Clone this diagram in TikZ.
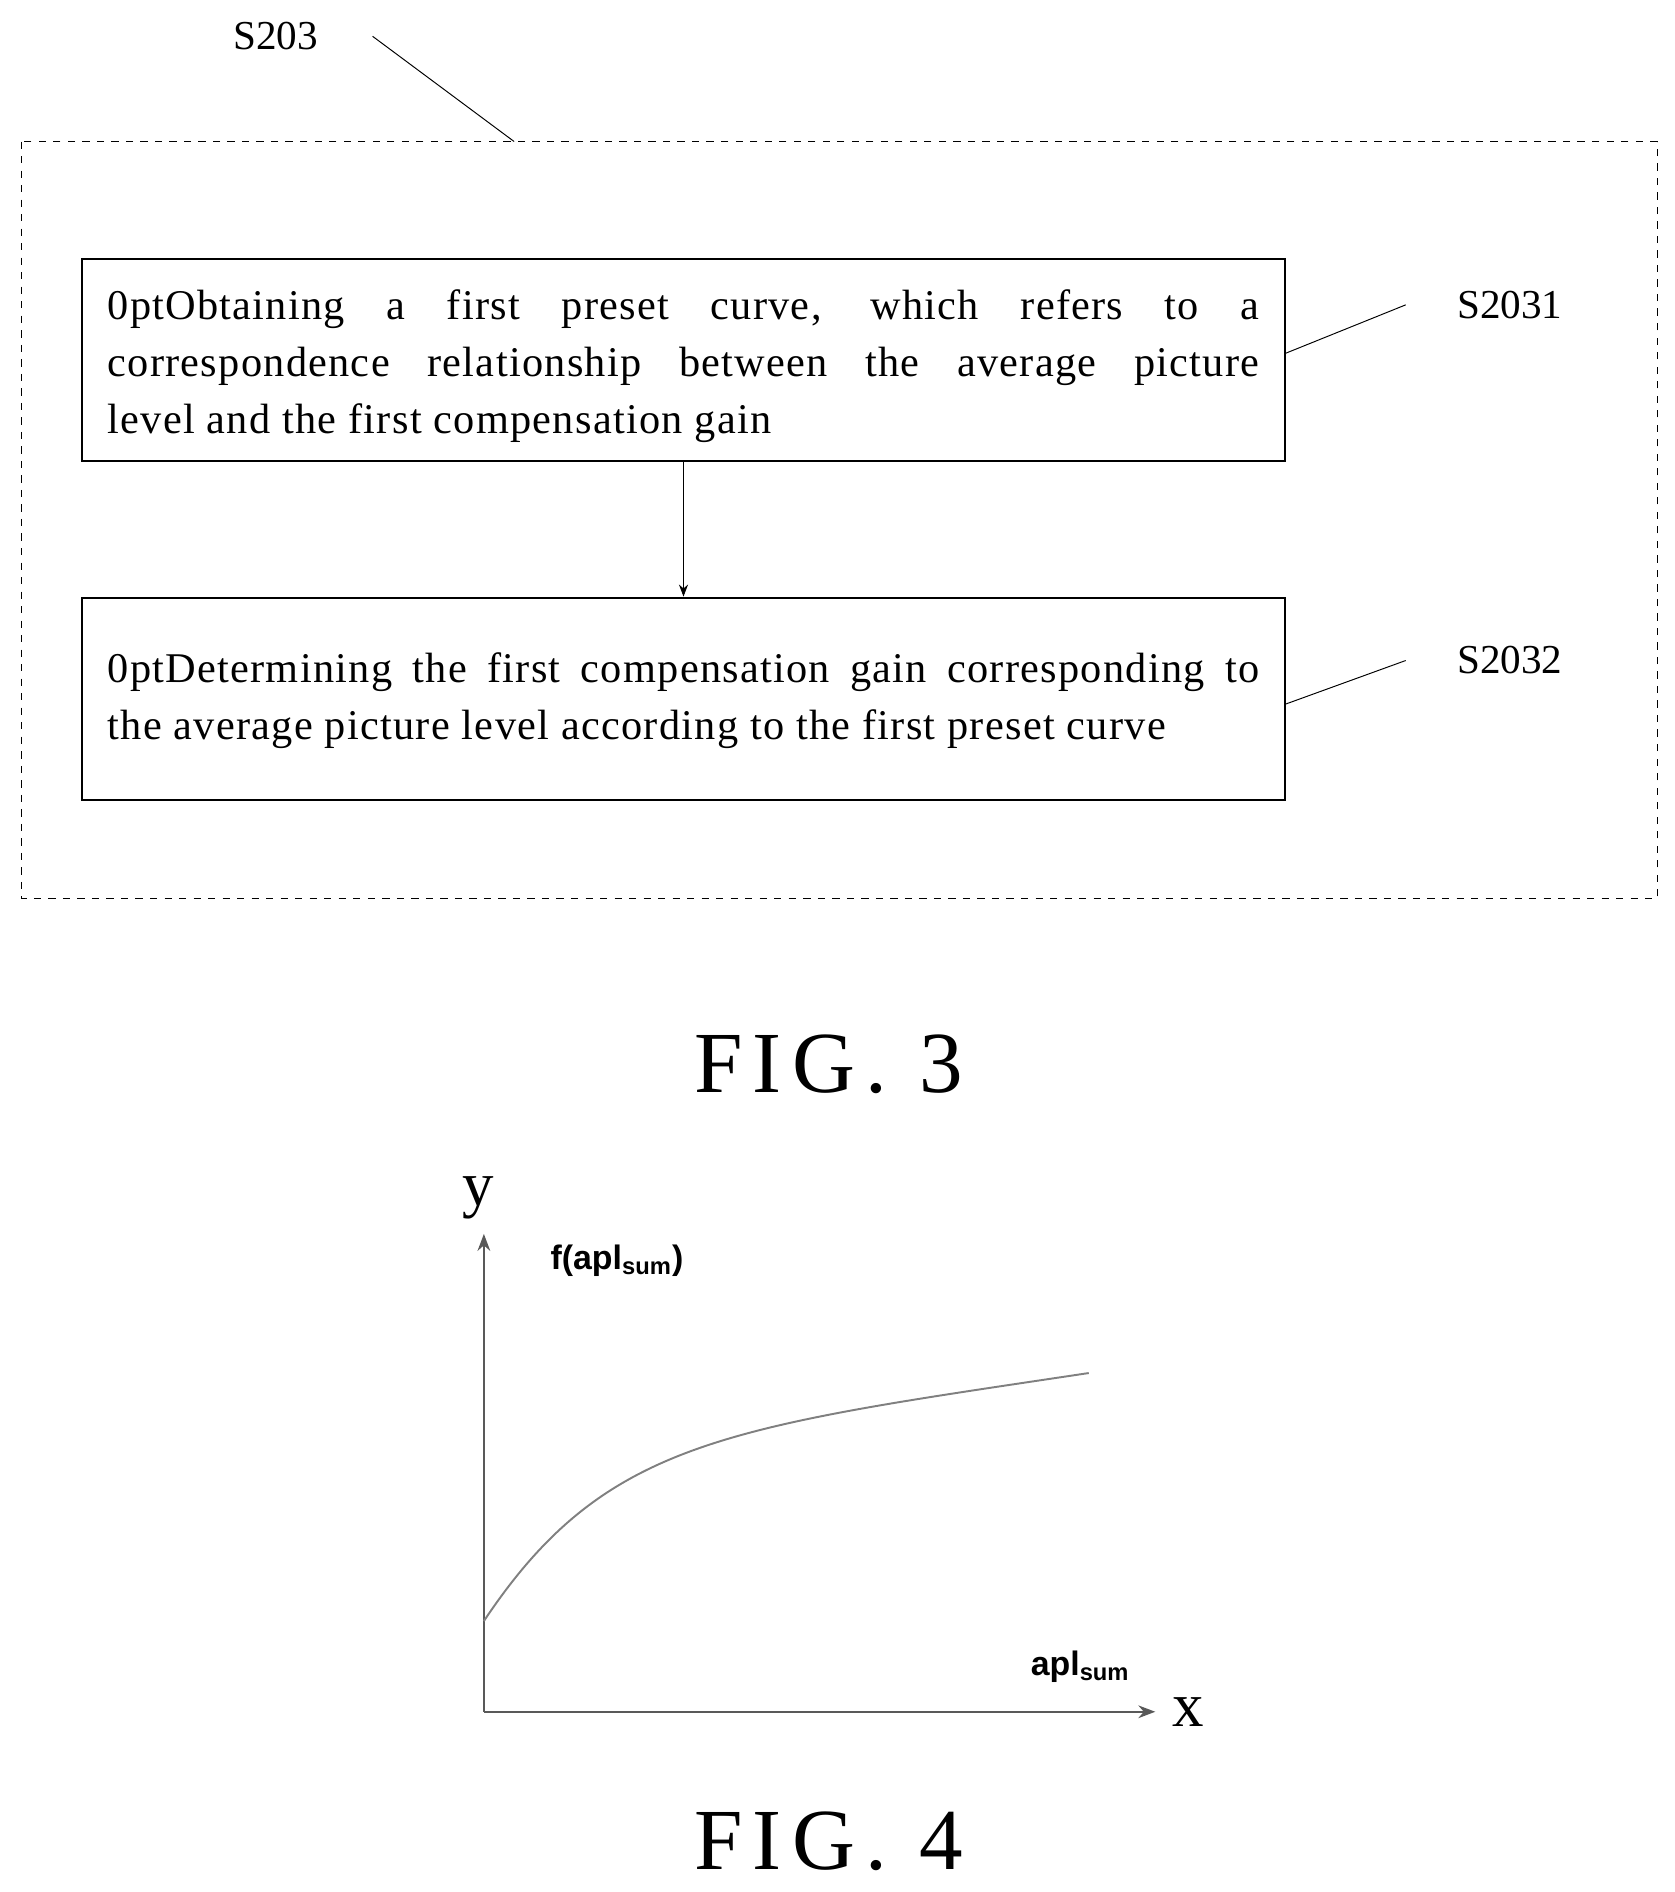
\documentclass[tikz,border=0pt]{standalone}
\usepackage{fontspec}
\setmainfont{Liberation Serif}
\setsansfont{Liberation Sans}
\usetikzlibrary{arrows.meta}
\begin{document}
\begin{tikzpicture}[x=0.5pt,y=-0.5pt,
  stepbox/.style={draw,thick,minimum width=497pt,minimum height=83.5pt,inner sep=0pt},
  btext/.style={text width=476pt,align=justify,inner sep=0pt,anchor=north,font=\fontsize{17.5}{23.5}\selectfont\addfontfeature{LetterSpace=3}\hyphenpenalty=10000\exhyphenpenalty=10000},
  lbl/.style={font=\fontsize{17}{19}\selectfont},
  fig/.style={font=\fontsize{36}{40}\selectfont\addfontfeature{LetterSpace=12}},
  lead/.style={draw,thin}]
\useasboundingbox (0,0) rectangle (1384,1564);
\draw[dashed,thin] (18,117) rectangle (1370,743);
\node[lbl] (s203) at (228,30) {S203};
\coordinate (c203a) at (308,30);
\coordinate (c203b) at (425,117);
\draw[lead] (c203a) -- (c203b);
\node[stepbox] (b1) at (565,297.5) {};
\node[stepbox] (b2) at (565,577.5) {};
\node[btext] (t1) at (565,239) {Obtaining a first preset curve, which refers to a\linebreak correspondence relationship between the average picture\linebreak level and the first compensation gain};
\node[btext] (t2) at (565,539) {Determining the first compensation gain corresponding to\linebreak the average picture level according to the first preset curve};
\draw[-{Stealth[length=5pt]}] (b1) -- (b2);
\node[lbl] (s1) at (1248,252) {S2031};
\node[lbl] (s2) at (1248,546) {S2032};
\coordinate (l1) at (1162,252);
\coordinate (l2) at (1162,546);
\draw[lead] (b1.east |- 0,292) -- (l1);
\draw[lead] (b2.east |- 0,582) -- (l2);
\node[fig] (f3) at (685,880) {FIG.\ 3};
\coordinate (o) at (400,1415);
\coordinate (ye) at (400,1020);
\coordinate (xe) at (955,1415);
\draw[thick,gray!70!black,-{Stealth[length=7pt]}] (o) -- (ye);
\draw[thick,gray!70!black,-{Stealth[length=7pt]}] (o) -- (xe);
\node[font=\fontsize{26}{28}\selectfont] (ylab) at (395,990) {y};
\node[font=\fontsize{26}{28}\selectfont] (xlab) at (982,1415) {x};
\node[font=\sffamily\bfseries\fontsize{14}{16}\selectfont] (fl) at (510,1042) {f(apl\textsubscript{sum})};
\node[font=\sffamily\bfseries\fontsize{14}{16}\selectfont] (al) at (893,1378) {apl\textsubscript{sum}};
\draw[gray,thick] (400,1340) .. controls (500,1190) and (600,1180) .. (900,1135);
\node[fig] (f4) at (685,1522) {FIG.\ 4};
\end{tikzpicture}
\end{document}
